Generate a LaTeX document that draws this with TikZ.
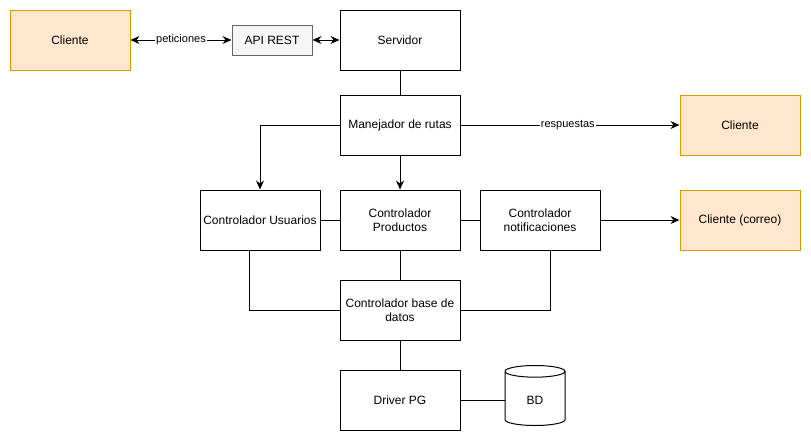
\documentclass[tikz,border=0pt]{standalone}
\usepackage{fontspec}
\setmainfont{Liberation Sans}
\usetikzlibrary{arrows.meta,shapes.geometric}
\definecolor{clientfill}{HTML}{FFE6CC}
\definecolor{clientdraw}{HTML}{D79B00}
\definecolor{apifill}{HTML}{F5F5F5}
\definecolor{apidraw}{HTML}{666666}
\begin{document}
\begin{tikzpicture}[x=1pt, y=-1pt,
    font=\fontsize{12}{14}\selectfont,
    block/.style={rectangle, draw, line width=1pt, minimum width=120pt, minimum height=60pt, align=center, inner sep=2pt},
    client/.style={block, fill=clientfill, draw=clientdraw},
    arrow/.style={-{Stealth[length=9pt,width=8pt]}, line width=1pt},
    twoway/.style={{Stealth[length=9pt,width=8pt]}-{Stealth[length=9pt,width=8pt]}, line width=1pt},
    link/.style={line width=1pt},
    tag/.style={fill=white, inner sep=1pt, font=\fontsize{11}{13}\selectfont}
]
\useasboundingbox (0,0) rectangle (811,442);
% Blocks
\node[client] (cliente) at (70,40) {Cliente};
\node[rectangle, draw=apidraw, fill=apifill, line width=1pt, minimum width=80pt, minimum height=30pt] (api) at (272,40) {API REST};
\node[block] (servidor) at (400,40) {Servidor};
\node[block] (rutas) at (400,125) {Manejador de rutas};
\node[client] (respuesta) at (740,125) {Cliente};
\node[block] (usuarios) at (260,220) {Controlador Usuarios};
\node[block] (productos) at (400,220) {Controlador\\Productos};
\node[block] (notif) at (540,220) {Controlador\\notificaciones};
\node[client] (correo) at (740,220) {Cliente (correo)};
\node[block] (basedatos) at (400,310) {Controlador base de\\datos};
\node[block] (driver) at (400,400) {Driver PG};
\node[cylinder, shape border rotate=90, draw, line width=1pt, aspect=0.5, minimum width=60pt, minimum height=60pt] (bd) at (535,400) {BD};

% Arrows
\draw[twoway] (cliente) -- node[tag] {peticiones} (api);
\draw[twoway] (api) -- (servidor);
\draw[link] (servidor) -- (rutas);
\draw[arrow] (rutas.west) -| (usuarios.north);
\draw[arrow] (rutas) -- (productos);
\draw[arrow] (rutas) -- node[tag, pos=0.49] {respuestas} (respuesta);
\draw[arrow] (notif) -- (correo);

% Links
\draw[link] (usuarios) -- (productos);
\draw[link] (productos) -- (notif);
\draw[link] (productos) -- (basedatos);
\draw[link] (usuarios.south west) ++(50,0) |- (basedatos.west);
\draw[link] (notif.south east) ++(-50,0) |- (basedatos.east);
\draw[link] (basedatos) -- (driver);
\draw[link] (driver) -- (bd);

\end{tikzpicture}
\end{document}
